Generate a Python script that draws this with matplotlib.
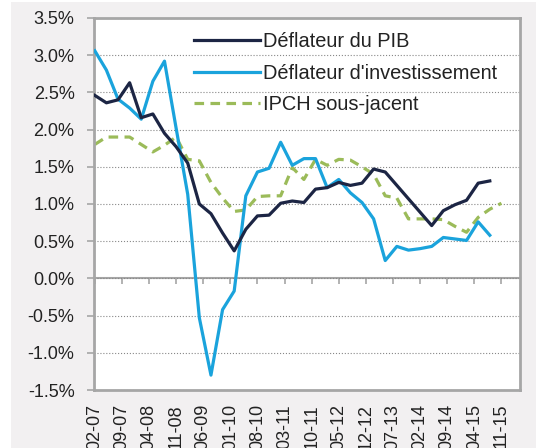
import matplotlib
matplotlib.use("Agg")
import matplotlib.pyplot as plt
from matplotlib.patches import Rectangle

plt.rcParams['font.family'] = ['Liberation Sans', 'DejaVu Sans']

# quarterly observations, x = months since 02-07
months_pib = list(range(0, 103, 3))
deflateur_pib = [2.46, 2.36, 2.40, 2.63, 2.16, 2.21, 1.95, 1.77, 1.55, 1.00,
                 0.87, 0.61, 0.37, 0.66, 0.84, 0.85, 1.01, 1.04, 1.02, 1.20,
                 1.22, 1.29, 1.25, 1.28, 1.47, 1.43, 1.25, 1.07, 0.89, 0.71,
                 0.91, 0.99, 1.05, 1.28, 1.31]
deflateur_invest = [3.06, 2.80, 2.41, 2.29, 2.14, 2.65, 2.92, 2.02, 1.13, -0.53,
                    -1.30, -0.42, -0.17, 1.11, 1.43, 1.48, 1.83, 1.52, 1.61, 1.61,
                    1.22, 1.33, 1.15, 1.02, 0.80, 0.24, 0.43, 0.38, 0.40, 0.43,
                    0.55, 0.53, 0.51, 0.76, 0.58]
months_ipch = list(range(0, 106, 3))
ipch = [1.80, 1.90, 1.90, 1.90, 1.80, 1.70, 1.79, 1.90, 1.60, 1.58,
        1.29, 1.08, 0.90, 0.92, 1.10, 1.11, 1.11, 1.49, 1.33, 1.60,
        1.52, 1.60, 1.59, 1.50, 1.40, 1.11, 1.08, 0.80, 0.80, 0.80,
        0.79, 0.70, 0.62, 0.82, 0.93, 1.01]

tick_months = list(range(0, 106, 7))
tick_labels = ['02-07', '09-07', '04-08', '11-08', '06-09', '01-10', '08-10',
               '03-11', '10-11', '05-12', '12-12', '07-13', '02-14', '09-14',
               '04-15', '11-15']
y_ticks = [-1.5, -1.0, -0.5, 0.0, 0.5, 1.0, 1.5, 2.0, 2.5, 3.0, 3.5]

fig = plt.figure(figsize=(5.36, 4.48), dpi=100)
fig.patch.set_facecolor('white')
bg = Rectangle((11 / 536, 0), 1, 1 - 2 / 448, transform=fig.transFigure,
               facecolor='#f2f0f1', edgecolor='none', zorder=-10)
fig.add_artist(bg)
ax = fig.add_axes([94 / 536, 1 - 390 / 448, 426 / 536, 372 / 448])
ax.set_zorder(1)
ax.set_facecolor('white')

ax.plot(months_pib, deflateur_pib, color='#1c2544', lw=2.3, label='Déflateur du PIB', zorder=4)
ax.plot(months_pib, deflateur_invest, color='#1aa3dc', lw=2.3,
        label="Déflateur d'investissement", zorder=3)
ax.plot(months_ipch, ipch, color='#9bbb59', lw=2.3, ls=(0, (3, 2)),
        label='IPCH sous-jacent', zorder=2)

ax.set_xlim(-0.2, 109.8)
ax.set_ylim(-1.5, 3.5)
ax.set_yticks(y_ticks)
ax.set_yticklabels([f'{v:.1f}%' for v in y_ticks], fontsize=13, color='#222222')
ax.yaxis.grid(True, ls=':', color='#888888', lw=0.8)
ax.set_axisbelow(True)
ax.tick_params(axis='y', length=5, width=1.2, color='#a6a6a6', pad=9)

ax.set_xticks(tick_months)
ax.set_xticklabels(tick_labels, rotation=90, fontsize=13, color='#222222')
ax.tick_params(axis='x', length=0, pad=10)

for side in ['left', 'right', 'top', 'bottom']:
    ax.spines[side].set_color('#a6a6a6')
    ax.spines[side].set_linewidth(2.0)

# zero line with tick marks
zero_ax = ax.secondary_xaxis(0.3)
zero_ax.set_xticks(tick_months)
zero_ax.set_xticklabels([])
zero_ax.tick_params(axis='x', direction='out', length=4, width=1.2, color='#a6a6a6')
zero_ax.spines['bottom'].set_color('#a6a6a6')
zero_ax.spines['bottom'].set_linewidth(1.5)

leg = ax.legend(loc='upper right', bbox_to_anchor=(0.983, 1.005), frameon=False,
                fontsize=14.4, handlelength=3.3, handletextpad=0.15,
                labelspacing=0.62, borderaxespad=0.4)
for t in leg.get_texts():
    t.set_color('#222222')

fig.savefig('out.png', dpi=100, facecolor=fig.get_facecolor())
